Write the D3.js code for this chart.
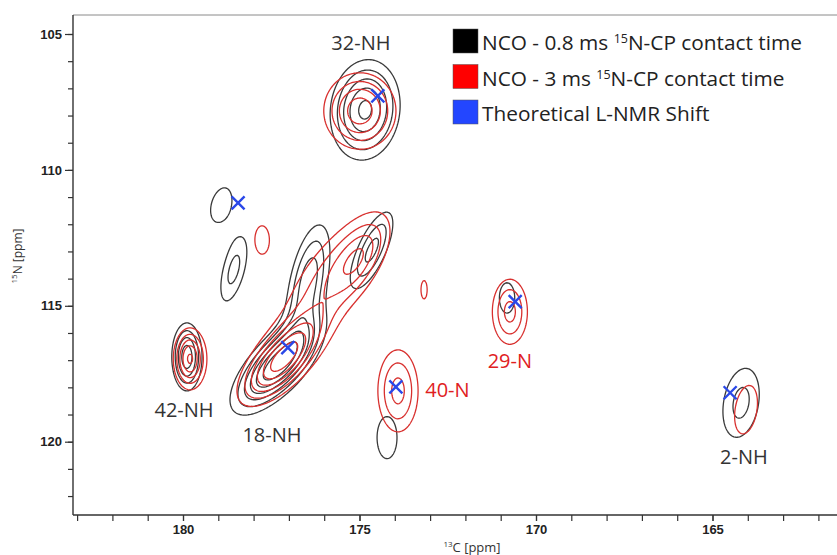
<!DOCTYPE html>
<html>
<head>
<meta charset="utf-8">
<script src="https://cdn.jsdelivr.net/npm/d3@7"></script>
<style>
  body { margin: 0; background: #fff; }
  svg { display: block; }
</style>
</head>
<body>
<svg id="chart" width="837" height="555"></svg>
<script>
// ---- Axis ticks (ppm) ----
const carbonTicks = [180, 175, 170, 165];
const nitrogenTicks = [105, 110, 115, 120];

// ---- Peak components of the two NCO spectra ----
// c / n: 13C and 15N shift (ppm); wc / wn: line widths (ppm);
// tilt: 13C drift per ppm of 15N; amp: relative intensity
const shortContactPeaks = [
  { c: 174.84, n: 107.79, wc: 0.62, wn: 1.16, tilt: 0.05, amp: 3.55 }, // 32-NH
  { c: 179.89, n: 116.88, wc: 0.28, wn: 0.82, tilt: 0.00, amp: 3.2 },  // 42-NH
  { c: 178.92, n: 111.29, wc: 0.39, wn: 0.87, tilt: 0.15, amp: 1.3 },
  { c: 178.56, n: 113.68, wc: 0.28, wn: 1.05, tilt: 0.18, amp: 1.8 },
  { c: 177.35, n: 117.20, wc: 0.55, wn: 1.05, tilt: 0.50, amp: 4.5 },  // 18-NH
  { c: 176.45, n: 114.10, wc: 0.38, wn: 1.50, tilt: 0.15, amp: 2.6 },
  { c: 174.65, n: 112.95, wc: 0.32, wn: 1.05, tilt: 0.30, amp: 2.4 },
  { c: 170.82, n: 114.71, wc: 0.30, wn: 0.77, tilt: 0.00, amp: 1.3 },  // 29-N
  { c: 174.22, n: 119.85, wc: 0.39, wn: 1.07, tilt: 0.00, amp: 1.3 },
  { c: 164.19, n: 118.57, wc: 0.46, wn: 1.17, tilt: 0.10, amp: 1.8 }   // 2-NH
];
const longContactPeaks = [
  { c: 174.99, n: 107.83, wc: 0.67, wn: 0.92, tilt: 0.00, amp: 3.2 },  // 32-NH
  { c: 179.80, n: 116.95, wc: 0.30, wn: 0.72, tilt: 0.00, amp: 3.5 },  // 42-NH
  { c: 177.76, n: 112.57, wc: 0.28, wn: 0.71, tilt: 0.00, amp: 1.3 },
  { c: 177.20, n: 117.00, wc: 0.55, wn: 1.00, tilt: 0.50, amp: 4.1 },  // 18-NH
  { c: 175.70, n: 113.90, wc: 0.80, wn: 1.70, tilt: 0.45, amp: 2.0 },
  { c: 175.00, n: 113.20, wc: 0.40, wn: 0.90, tilt: 0.30, amp: 1.3 },
  { c: 173.17, n: 114.41, wc: 0.12, wn: 0.46, tilt: 0.00, amp: 1.3 },
  { c: 173.91, n: 118.13, wc: 0.43, wn: 1.14, tilt: 0.00, amp: 2.4 },  // 40-N
  { c: 170.74, n: 115.22, wc: 0.375, wn: 0.905, tilt: 0.00, amp: 2.4 }, // 29-N
  { c: 164.05, n: 118.82, wc: 0.43, wn: 1.23, tilt: 0.10, amp: 1.3 }   // 2-NH
];
const contourLevels = [1.0, 1.6, 2.2, 2.8, 3.4, 4.0];

// ---- Theoretical L-NMR shifts ----
const theoryC = [178.44, 174.48, 177.03, 173.97, 170.59, 164.50];
const theoryN = [111.21, 107.28, 116.54, 117.98, 114.85, 118.20];

// ---- Assignment labels ----
const assignLabels = [
  { text: "32-NH", c: 174.96, n: 105.59, red: false },
  { text: "42-NH", c: 179.97, n: 119.08, red: false },
  { text: "18-NH", c: 177.48, n: 120.00, red: false },
  { text: "40-N",  c: 172.51, n: 118.35, red: true },
  { text: "29-N",  c: 170.74, n: 117.28, red: true },
  { text: "2-NH",  c: 164.11, n: 120.81, red: false }
];

// ---- Legend entries ----
const legendNames = ["NCO - 0.8 ms ", "NCO - 3 ms ", "Theoretical L-NMR Shift"];
const legendSup = ["15", "15", ""];
const legendTail = ["N-CP contact time", "N-CP contact time", ""];
const legendColors = ["#000000", "#ff0000", "#2346ff"];

// ---------------------------------------------------------------
const svg = d3.select("#chart");
const frame = { left: 73, right: 837, top: 15, bottom: 515 };

const x = d3.scaleLinear().domain([180, 165]).range([183, 712.5]);
const y = d3.scaleLinear().domain([105, 120]).range([34, 441.7]);

// Sample a spectrum on a pixel grid over the plot area
const res = 1.5;
const nx = Math.ceil((frame.right - frame.left) / res);
const ny = Math.ceil((frame.bottom - frame.top) / res);

function surface(peaks) {
  const values = new Float64Array(nx * ny);
  for (let j = 0; j < ny; j++) {
    const n = y.invert(frame.top + (j + 0.5) * res);
    for (let i = 0; i < nx; i++) {
      const c = x.invert(frame.left + (i + 0.5) * res);
      let v = 0;
      for (const p of peaks) {
        const dn = n - p.n;
        const dc = (c - p.c) - p.tilt * dn;
        v += p.amp * Math.exp(-0.5 * ((dc / p.wc) ** 2 + (dn / p.wn) ** 2));
      }
      values[j * nx + i] = v;
    }
  }
  return values;
}

const gridToPx = d3.geoTransform({
  point(gx, gy) { this.stream.point(frame.left + gx * res, frame.top + gy * res); }
});
const contourPath = d3.geoPath(gridToPx);
const contourGen = d3.contours().size([nx, ny]).thresholds(contourLevels);

function drawSpectrum(peaks, color, cls) {
  const sets = contourGen(surface(peaks));
  svg.append("g").attr("class", cls)
    .selectAll("path").data(sets).join("path")
    .attr("d", contourPath)
    .attr("fill", "none")
    .attr("stroke", color)
    .attr("stroke-width", 1.3)
    .attr("stroke-linejoin", "round");
}

drawSpectrum(shortContactPeaks, "#3a3a3a", "short-cp");
drawSpectrum(longContactPeaks, "#d8302e", "long-cp");

// Theoretical shift markers
const theory = theoryC.map((c, i) => ({ c, n: theoryN[i] }));
const cross = 6.5;
svg.append("g").attr("class", "theory")
  .selectAll("path").data(theory).join("path")
  .attr("d", d => {
    const px = x(d.c), py = y(d.n);
    return `M${px - cross},${py - cross}L${px + cross},${py + cross}M${px - cross},${py + cross}L${px + cross},${py - cross}`;
  })
  .attr("stroke", "#2a48e8")
  .attr("stroke-width", 2.4)
  .attr("fill", "none");

// Assignment labels
svg.append("g").attr("class", "labels")
  .selectAll("text").data(assignLabels).join("text")
  .attr("x", d => x(d.c))
  .attr("y", d => y(d.n))
  .attr("text-anchor", "middle")
  .attr("font-family", "'Open Sans', sans-serif")
  .attr("font-size", 20)
  .attr("fill", d => d.red ? "#e0201e" : "#333")
  .text(d => d.text);

// Frame lines
svg.append("line")
  .attr("x1", frame.left).attr("x2", frame.right)
  .attr("y1", frame.top).attr("y2", frame.top)
  .attr("stroke", "#8a8a8a").attr("stroke-width", 1);
svg.append("line")
  .attr("x1", frame.left).attr("x2", frame.left)
  .attr("y1", frame.top).attr("y2", frame.bottom)
  .attr("stroke", "#333").attr("stroke-width", 1.4);
svg.append("line")
  .attr("x1", frame.left).attr("x2", frame.right)
  .attr("y1", frame.bottom).attr("y2", frame.bottom)
  .attr("stroke", "#333").attr("stroke-width", 1.4);

// Axes
const tickFont = g => g.selectAll("text")
  .attr("font-family", "'Liberation Sans', Arial, sans-serif")
  .attr("font-weight", "bold")
  .attr("font-size", 13)
  .attr("fill", "#222");

const yMinor = svg.append("g").attr("transform", `translate(${frame.left},0)`)
  .call(d3.axisLeft(y).tickValues(d3.range(105, 123)).tickSize(5).tickFormat(""));
const yMajor = svg.append("g").attr("transform", `translate(${frame.left},0)`)
  .call(d3.axisLeft(y).tickValues(nitrogenTicks).tickSize(8).tickPadding(3).tickFormat(d3.format("d")))
  .call(tickFont);
const xMinor = svg.append("g").attr("transform", `translate(0,${frame.bottom})`)
  .call(d3.axisBottom(x).tickValues(d3.range(162, 184)).tickSize(6).tickFormat(""));
const xMajor = svg.append("g").attr("transform", `translate(0,${frame.bottom})`)
  .call(d3.axisBottom(x).tickValues(carbonTicks).tickSize(6).tickPadding(4).tickFormat(d3.format("d")))
  .call(tickFont);
[yMinor, yMajor, xMinor, xMajor].forEach(g => {
  g.select(".domain").remove();
  g.selectAll("line").attr("stroke", "#333").attr("stroke-width", 1.2);
});

// Axis titles
const xTitle = svg.append("text")
  .attr("x", 472).attr("y", 552)
  .attr("text-anchor", "middle")
  .attr("font-family", "'Open Sans', sans-serif")
  .attr("font-size", 13).attr("fill", "#333");
xTitle.append("tspan").attr("font-size", 8).attr("dy", -5).text("13");
xTitle.append("tspan").attr("dy", 5).text("C [ppm]");

const yTitle = svg.append("text")
  .attr("transform", "translate(22,256) rotate(-90)")
  .attr("text-anchor", "middle")
  .attr("font-family", "'Open Sans', sans-serif")
  .attr("font-size", 12).attr("fill", "#333");
yTitle.append("tspan").attr("font-size", 8).attr("dy", -5).text("15");
yTitle.append("tspan").attr("dy", 5).text("N [ppm]");

// Legend
const legend = svg.append("g").attr("class", "legend");
legendNames.forEach((name, i) => {
  const row = legend.append("g").attr("transform", `translate(453,${29 + i * 35.5})`);
  row.append("rect").attr("width", 25).attr("height", 24)
    .attr("fill", legendColors[i]).attr("stroke", "#555").attr("stroke-width", 0.5);
  const t = row.append("text").attr("x", 29).attr("y", 21)
    .attr("font-family", "'Open Sans', sans-serif")
    .attr("font-size", 20.8).attr("fill", "#222");
  t.append("tspan").text(name);
  if (legendSup[i]) {
    t.append("tspan").attr("font-size", 12.5).attr("dy", -7).text(legendSup[i]);
    t.append("tspan").attr("dy", 7).text(legendTail[i]);
  }
});
</script>
</body>
</html>
